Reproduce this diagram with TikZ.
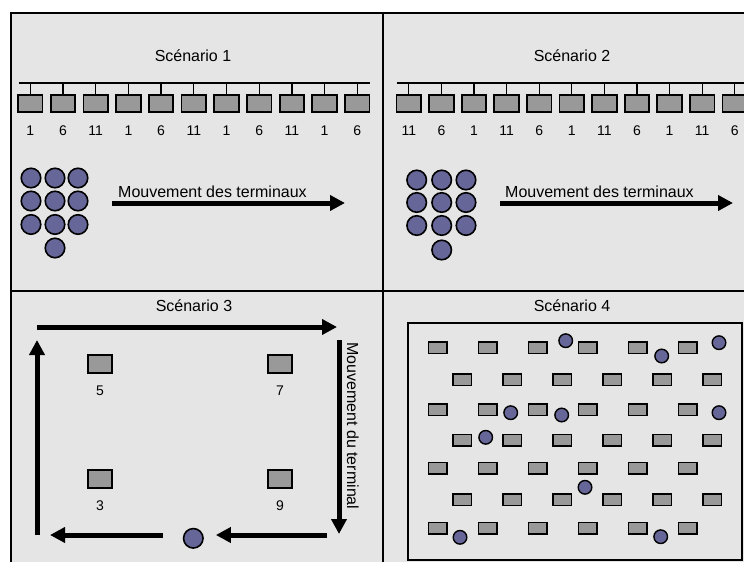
\documentclass[tikz,border=0pt]{standalone}
\usepackage{fontspec}
\setmainfont{Liberation Sans}
\usetikzlibrary{positioning, arrows.meta}
\definecolor{cBg}{RGB}{229,229,229}
\definecolor{cAp}{RGB}{153,153,153}
\definecolor{cMs}{RGB}{102,102,153}

\tikzset{
  frame/.style={line width=1.6pt},
  bus/.style={line width=1.3pt},
  ap/.style={draw, line width=1.8pt, fill=cAp, minimum width=24.5pt, minimum height=17.5pt, inner sep=0pt},
  apsmall/.style={ap, line width=1.5pt, minimum width=18.5pt, minimum height=11.5pt},
  ms/.style={circle, draw, line width=1.6pt, fill=cMs, minimum size=19.5pt, inner sep=0pt},
  mssmall/.style={ms, line width=1.4pt, minimum size=13.6pt},
  move/.style={line width=5pt, -{Triangle[length=15pt,width=15pt]}},
  title/.style={font=\fontsize{16}{19}\selectfont, anchor=base, inner sep=0pt},
  chan/.style={font=\fontsize{14}{16}\selectfont, anchor=base, inner sep=0pt}
}

\begin{document}
\begin{tikzpicture}[x=1pt, y=-1pt]
    \useasboundingbox (0,0) rectangle (744,562);
    \fill[white] (0,0) rectangle (744,562);

    % Panels
    \draw[frame, fill=cBg] (11,13) rectangle (770,580);
    \draw[frame] (383,13) -- (383,580);
    \draw[frame] (11,291) -- (770,291);

    % Titles
    \node[title] (T1) at (193,61) {Scénario 1};
    \node[title] (T2) at (572,61) {Scénario 2};
    \node[title] (T3) at (194,311.7) {Scénario 3};
    \node[title] (T4) at (572,311.7) {Scénario 4};

    % Scenario 1: access points on the bus
    \coordinate (bus1w) at (19.3,83);
    \coordinate (bus1e) at (370,83);
    \draw[bus] (bus1w) -- (bus1e);
    \foreach \c [count=\i] in {1,6,11,1,6,11,1,6,11,1,6} {
        \node[ap] (A\i) at ({30.3+32.7*(\i-1)},103.5) {};
        \draw[bus] (A\i.north) -- (A\i.north |- bus1w);
        \node[chan, yshift=-22pt] (ch1\i) at (A\i.south) {\c};
    }

    % Scenario 2: access points on the bus
    \coordinate (bus2w) at (396.7,83);
    \coordinate (bus2e) at (770,83);
    \draw[bus] (bus2w) -- (bus2e);
    \foreach \c [count=\i] in {11,6,1,11,6,1,11,6,1,11,6} {
        \node[ap] (B\i) at ({408.8+32.6*(\i-1)},103.5) {};
        \draw[bus] (B\i.north) -- (B\i.north |- bus2w);
        \node[chan, yshift=-22pt] (ch2\i) at (B\i.south) {\c};
    }

    % Terminals (scenarios 1 and 2)
    \foreach \y [count=\r] in {178,201,224.5} {
        \foreach \x [count=\k] in {31,55,78} {
            \node[ms] (M\r\k) at (\x,\y) {};
        }
    }
    \node[ms] (M41) at (55,248) {};
    \foreach \y [count=\r] in {180,202.5,225.5} {
        \foreach \x [count=\k] in {416.7,441.7,466} {
            \node[ms] (N\r\k) at (\x,\y) {};
        }
    }
    \node[ms] (N41) at (441.7,250) {};

    % Movement of the group
    \coordinate (m1s) at (112,203);
    \coordinate (m1e) at (345,203);
    \draw[move] (m1s) -- (m1e);
    \node[title, anchor=base west] (L1) at (118,197.3) {Mouvement des terminaux};
    \coordinate (m2s) at (500,203);
    \coordinate (m2e) at (733,203);
    \draw[move] (m2s) -- (m2e);
    \node[title, anchor=base west] (L2) at (505,197.3) {Mouvement des terminaux};

    % Scenario 3
    \node[ap] (P5) at (100,364) {};
    \node[ap] (P7) at (280,364) {};
    \node[ap] (P3) at (100,479) {};
    \node[ap] (P9) at (280,479) {};
    \node[chan, yshift=-22pt] (n5) at (P5.south) {5};
    \node[chan, yshift=-22pt] (n7) at (P7.south) {7};
    \node[chan, yshift=-22pt] (n3) at (P3.south) {3};
    \node[chan, yshift=-22pt] (n9) at (P9.south) {9};
    \node[ms] (MT) at (193.3,538.3) {};

    \coordinate (tl) at (37,327);
    \coordinate (tr) at (337,327);
    \coordinate (rt) at (339,340);
    \coordinate (rb) at (339,534);
    \coordinate (br) at (327,535);
    \coordinate (bl) at (50,535);
    \coordinate (lb) at (37,535);
    \coordinate (lt) at (37,340);
    \draw[move] (tl) -- (tr);
    \draw[move] (rt) -- (rb);
    \draw[move, shorten >=12pt] (br) -- (br -| MT.east);
    \draw[move, shorten <=20pt] (bl -| MT.west) -- (bl);
    \draw[move] (lb) -- (lt);
    \node[title, rotate=-90, anchor=base west] (L3) at (347,342) {Mouvement du terminal};

    % Scenario 4
    \draw[frame] (408,323) rectangle (742,560);
    \foreach \y [count=\r] in {347.5,409.7,468,528.3} {
        \foreach \k in {0,...,5} {
            \node[apsmall] (Q\r\k) at ({437.5+50*\k},\y) {};
        }
    }
    \foreach \y [count=\r] in {379.7,440,499.5} {
        \foreach \k in {0,...,5} {
            \node[apsmall] (R\r\k) at ({462.4+50*\k},\y) {};
        }
    }
    \foreach \x/\y [count=\i] in {565.7/340.7, 661.7/356, 719/342.7, 510.7/412.7, 561.7/415,
        719/412.7, 485.7/437.3, 585/487.3, 460/537.3, 660.7/536.7} {
        \node[mssmall] (U\i) at (\x,\y) {};
    }
\end{tikzpicture}
\end{document}
